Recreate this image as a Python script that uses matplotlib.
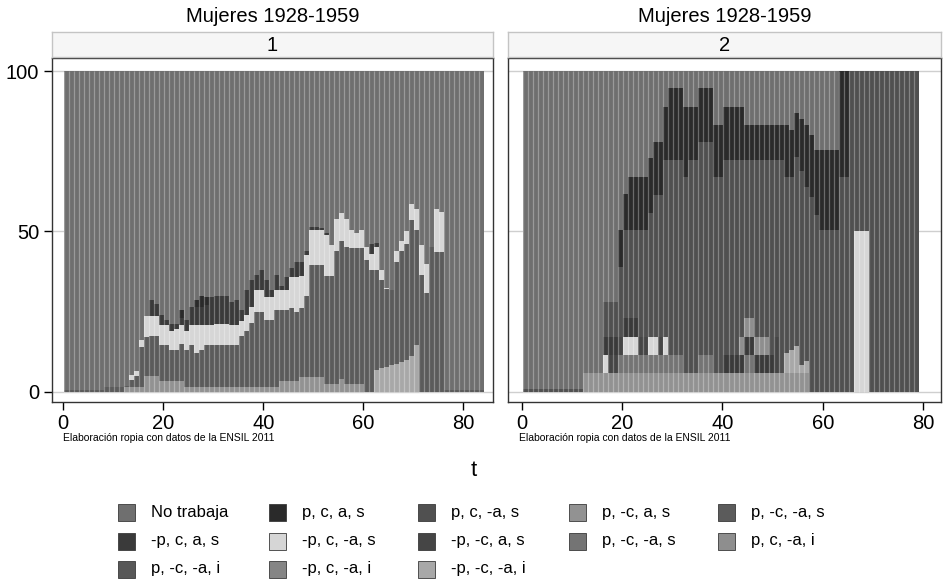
import numpy as np
import matplotlib
matplotlib.use('Agg')
import matplotlib.pyplot as plt
from matplotlib.patches import Rectangle

plt.rcParams['font.family'] = ['Liberation Sans', 'DejaVu Sans']

# categories (legend order) and their gray fills
categories = ['No trabaja', 'p, c, a, s', 'p, c, -a, s', 'p, -c, a, s', 'p, -c, -a, s',
              '-p, c, a, s', '-p, c, -a, s', '-p, -c, a, s', 'p, -c, -a, s', 'p, c, -a, i',
              'p, -c, -a, i', '-p, c, -a, i', '-p, -c, -a, i']
colors = ['#6f6f6f', '#2a2a2a', '#505050', '#929292', '#5b5b5b',
          '#3a3a3a', '#d6d6d6', '#454545', '#747474', '#8e8e8e',
          '#575757', '#858585', '#a8a8a8']
# stacking order, bottom to top
stack_order = [3, 12, 8, 7, 10, 4, 6, 5, 9, 11, 2, 1, 0]

# ---- panel 1 (t = 0..83), percentages
t1 = np.arange(84)
p1_pcas = ([0] * 12 + [1.5] * 4 + [5] * 3 + [3.5] * 5 + [1.5] * 19 + [3.5] * 4 +
           [4.5] * 5 + [2.5] * 3 + [4] + [2.5] * 4 + [0] * 24)
p1_npncnai = [0] * 62 + [6.8, 7.3, 7.8, 8.3, 8.8, 9.3, 10, 11, 14.5] + [0] * 13
p1_pncnas = ([0.5] * 8 + [1.5] * 4 +
             [0.3, 2.3, 3.5, 12.5, 12, 12.5, 12.5, 11, 11, 9.5, 9.5, 11.5, 11.5, 13, 10.5, 11.5] +
             [13] * 7 +
             [16, 17.5, 19.8, 23.5, 23.5, 20.8, 20.8, 24, 22, 22, 22.5, 21.5, 21.5, 25.5] +
             [35] * 3 + [33.5, 33.5, 41.5, 43, 42.5] + [42.2] * 3 +
             [41, 38, 31.2, 27.7, 24.2, 23.4, 31.7, 34.7, 36, 42.5, 35.9, 36.4, 30.7, 45, 43.7, 43.7] +
             [0.5] * 8)
p1_npcnas = ([0] * 13 + [1.4, 1.4, 2] +
             [6.6, 6.1, 6.1, 6.3, 6.3, 6, 6.5, 5.8, 6, 6.3, 8.8, 7.8] +
             [6.3, 6.3, 6.5, 6.5, 6.5, 6.3, 6.3] +
             [4.5, 5, 5.2, 6.7, 6.7, 7.3, 7.3, 6.2, 6.2, 6.2] +
             [9.9, 10.9, 10, 12.6, 10.9, 10.9, 10.9, 13, 9.7, 10, 8.6, 9, 5.7, 4.7, 5.7] +
             [4, 5, 7, 3, 0.5, 0, 3.5, 3, 4, 5.2, 6.6, 9.3, 9.3, 0, 13.3, 12.3] +
             [0] * 8)
p1_npcas = ([0] * 17 +
            [5, 3.9, 3.2, 1.7, 2, 1.5, 2.2, 3.5, 5.7, 5.7, 5.7, 6.2, 8.7, 9, 9, 9, 7.2, 7.8,
             3.5, 7.7, 8.3, 4.7, 6.3, 5.2, 2.1, 4.7, 1.3, 4.1, 2.6, 4.6, 4.5, 1.4, 1.1, 1.1, 0.6, 0.4] +
            [0] * 8 + [3, 1.5] + [0] * 21)
p1_pcas_dark = [0] * 23 + [2.5, 0, 0, 2.1, 3.5, 2.5] + [0] * 55

# ---- panel 2 (t = 0..78)
t2 = np.arange(79)
p2_pcas = [0] * 12 + [5.9] * 45 + [0] * 22
p2_npncnai = [0] * 52 + [6.1, 7.1, 8.4, 2.6, 3.6] + [0] * 22
p2_pncnas2 = [0] * 19 + [5.5] * 13 + [0] * 3 + [5.5] * 3 + [0] * 6 + [5.5] * 2 + [0] * 33
p2_npncas = ([0] * 17 + [5.5, 5.5, 5.6] + [0] * 3 + [5.6, 5.6, 0, 0, 5.6] + [0] * 22 +
             [11.1] + [0] * 28)
p2_npcnas = ([0] * 16 + [5.5] + [0] * 3 + [5.6] * 3 + [0, 0, 5.6, 5.6, 0, 5.6] + [0] * 37 +
             [50] * 3 + [0] * 10)
p2_npcas = ([0] * 16 + [5.6] * 3 + [0] + [5.9] * 3 + [0] * 17 + [5.5] * 4 + [5.6] * 2 +
            [5.5] * 4 + [0] * 29)
p2_pcnai = [0] * 43 + [5.6, 5.9, 5.9, 5.6, 5.6, 5.6] + [0] * 30
p2_pcnas = ([0.8] * 12 + [0] * 4 + [11] * 3 +
            [22, 27.5, 27.5, 27.5, 33.4, 33.4, 38.6, 44.3, 44.3, 55.2] +
            [60.8] * 3 + [61.1] + [66.3] * 2 + [66.6] * 3 + [61.1] * 2 + [60.8] * 3 +
            [55.2, 49.3, 49.3, 55.2, 55.2, 55.2, 60.8, 55.2, 66.3] +
            [55, 54, 59, 60.5, 54.5, 60.8, 55] + [50.4] * 4 + [67] * 2 + [100] +
            [50] * 3 + [100] * 10)
p2_pcas_black = ([0] * 19 + [11.4, 11.4] + [16.6] * 4 + [17.2] + [16.7] * 3 + [22.4] * 3 +
                 [21.9] + [16.7] * 2 + [16.6] * 3 + [16.2] * 2 + [16.7] * 4 + [11] * 8 +
                 [16.2, 14.6, 13.5, 16.2, 19.2, 19.2, 20.4] + [25] * 4 + [33] * 2 + [0] * 14)


def build(n, parts):
    vals = {i: np.zeros(n) for i in range(len(categories))}
    for idx, arr in parts:
        vals[idx] = vals[idx] + np.array(arr, dtype=float)
    used = sum(vals[i] for i in range(1, len(categories)))
    vals[0] = 100 - used
    return vals


panel1 = build(84, [(3, p1_pcas), (12, p1_npncnai), (4, p1_pncnas), (6, p1_npcnas),
                    (5, p1_npcas), (1, p1_pcas_dark)])
panel2 = build(79, [(3, p2_pcas), (12, p2_npncnai), (8, p2_pncnas2), (7, p2_npncas),
                    (6, p2_npcnas), (5, p2_npcas), (9, p2_pcnai), (2, p2_pcnas),
                    (1, p2_pcas_black)])

W, H = 949, 582
fig = plt.figure(figsize=(W / 100, H / 100), dpi=100)
fig.patch.set_facecolor('white')

ax1 = fig.add_axes([51.7 / W, 1 - 401.7 / H, (493.3 - 51.7) / W, (401.7 - 58.3) / H])
ax2 = fig.add_axes([508 / W, 1 - 401.7 / H, (941 - 508) / W, (401.7 - 58.3) / H])

for ax, t, vals, xlim, strip in [(ax1, t1, panel1, (-2.3, 86), '1'),
                                 (ax2, t2, panel2, (-2.7, 83.5), '2')]:
    for y in [0, 50, 100]:
        ax.axhline(y, color='#cfcfcf', lw=1, zorder=0)
    bottom = np.zeros(len(t))
    for idx in stack_order:
        ax.bar(t + 0.2, vals[idx], width=1.0, bottom=bottom, align='edge',
               color=colors[idx], edgecolor='none', linewidth=0, zorder=2)
        bottom = bottom + vals[idx]
    ax.vlines(t + 0.2, 0, 100, color='white', alpha=0.3, lw=0.9, zorder=3)
    ax.set_xlim(*xlim)
    ax.set_ylim(-3.1, 104)
    ax.set_xticks([0, 20, 40, 60, 80])
    ax.tick_params(axis='x', direction='out', length=6, width=1, labelsize=14.5, pad=3)
    for s in ax.spines.values():
        s.set_color('#333333')
        s.set_linewidth(1.0)
    pos = ax.get_position()
    sax = fig.add_axes([pos.x0, 1 - 57 / H, pos.width, (57 - 31.7) / H])
    sax.set_facecolor('#f6f6f6')
    sax.set_xticks([])
    sax.set_yticks([])
    for s in sax.spines.values():
        s.set_color('#c4c4c4')
        s.set_linewidth(1.0)
    sax.text(0.5, 0.45, strip, ha='center', va='center', fontsize=14.5, transform=sax.transAxes)
    fig.text((pos.x0 + pos.x1) / 2, 1 - 16 / H, 'Mujeres 1928-1959', ha='center', va='center',
             fontsize=14.5)
    fig.text((pos.x0 * W + 11) / W, 1 - 438 / H, 'Elaboración ropia con datos de la ENSIL 2011',
             ha='left', va='center', fontsize=7.5)

ax1.set_yticks([0, 50, 100])
ax1.tick_params(axis='y', direction='out', length=6, width=1, labelsize=14.5, pad=3)
ax2.set_yticks([])

fig.text(474 / W, 1 - 470 / H, 't', ha='center', va='center', fontsize=16)

# legend, filled row by row
col_x = [118, 269, 418, 569, 718]
row_y = [512, 541, 569]
for i, name in enumerate(categories):
    r, c = divmod(i, 5)
    x0, yc = col_x[c], row_y[r]
    rect = Rectangle((x0 / W, 1 - (yc + 8.5) / H), 17 / W, 17 / H, transform=fig.transFigure,
                     facecolor=colors[i], edgecolor='#3a3a3a', linewidth=0.6)
    fig.patches.append(rect)
    fig.text((x0 + 33) / W, 1 - yc / H, name, ha='left', va='center', fontsize=12)

fig.savefig('out.png', dpi=100)
